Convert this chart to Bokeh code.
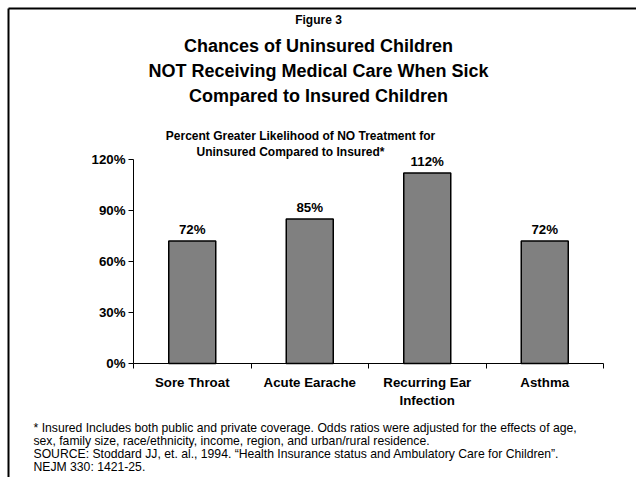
from bokeh.plotting import figure
from bokeh.models import Range1d, FixedTicker, Label, LabelSet, ColumnDataSource
from bokeh.core.properties import value
from bokeh.embed import file_html
from bokeh.resources import INLINE

# ---- data ----
categories = ["Sore Throat", "Acute Earache", "Recurring Ear\nInfection", "Asthma"]
values = [72, 85, 112, 72]
y_ticks = [0, 30, 60, 90, 120]
y_tick_labels = ["0%", "30%", "60%", "90%", "120%"]
figure_label = "Figure 3"
title_lines = ["Chances of Uninsured Children",
               "NOT Receiving Medical Care When Sick",
               "Compared to Insured Children"]
subtitle_lines = ["Percent Greater Likelihood of NO Treatment for",
                  "Uninsured Compared to Insured*"]
footnote_lines = [
    "* Insured Includes both public and private coverage.  Odds ratios were adjusted for the effects of age,",
    "sex, family size, race/ethnicity, income, region, and urban/rural residence.",
    "SOURCE: Stoddard JJ, et. al., 1994.  \u201cHealth Insurance status and Ambulatory Care for Children\u201d.",
    "NEJM 330: 1421-25.",
]

# ---- layout (the frame spans the whole canvas; axes sit at fixed locations) ----
W, H = 636, 477
n = len(categories)
y_max = 120
X0_PX, X1_PX = 133, 603      # pixel span of the category axis
Y0_PX, Y1_PX = 363, 159      # pixel span of the value axis (0 .. y_max)
FONT = "Liberation Sans"

kx = (X1_PX - X0_PX) / n
ky = (Y0_PX - Y1_PX) / y_max


def xd(px):
    return (px - X0_PX) / kx


def yd(py):
    return (Y0_PX - py) / ky


xs = [i + 0.5 for i in range(n)]
src = ColumnDataSource(dict(x=xs, value=values, label=[f"{v}%" for v in values]))

p = figure(width=W, height=H, output_backend="svg", toolbar_location=None,
           x_range=Range1d(xd(0), xd(W)), y_range=Range1d(yd(H), yd(0)),
           min_border=0)
p.outline_line_color = None
p.grid.visible = False
p.background_fill_color = "white"
p.border_fill_color = "white"

p.vbar(x="x", top="value", width=0.4, source=src,
       fill_color="#808080", line_color="black", line_width=1.5)

p.add_layout(LabelSet(x="x", y="value", text="label", source=src,
                      text_align="center", text_baseline="alphabetic", y_offset=7,
                      text_font=value(FONT), text_font_style="bold",
                      text_font_size="13.3px", text_color="black"))

# x axis
xa = p.xaxis[0]
xa.fixed_location = 0
xa.bounds = (0, n)
xa.ticker = FixedTicker(ticks=xs, minor_ticks=list(range(n + 1)))
xa.major_label_overrides = {x: c for x, c in zip(xs, categories)}
xa.major_tick_out = 0
xa.major_tick_in = 0
xa.minor_tick_out = 5
xa.minor_tick_in = 0
xa.minor_tick_line_color = "black"
xa.axis_line_color = "black"
xa.major_label_standoff = 6
xa.major_label_text_font = FONT
xa.major_label_text_font_style = "bold"
xa.major_label_text_font_size = "13.3px"
xa.major_label_text_color = "black"

# y axis
ya = p.yaxis[0]
ya.fixed_location = 0
ya.bounds = (0, y_max)
ya.ticker = FixedTicker(ticks=y_ticks)
ya.major_label_overrides = {t: s for t, s in zip(y_ticks, y_tick_labels)}
ya.major_tick_out = 5
ya.major_tick_in = 0
ya.minor_tick_out = 0
ya.minor_tick_in = 0
ya.major_tick_line_color = "black"
ya.axis_line_color = "black"
ya.major_label_standoff = 3
ya.major_label_text_font = FONT
ya.major_label_text_font_style = "bold"
ya.major_label_text_font_size = "13.3px"
ya.major_label_text_color = "black"


def add_text(txt, px, py, size, bold=True, align="center"):
    p.add_layout(Label(x=xd(px), y=yd(py), text=txt, text_align=align,
                       text_baseline="middle", text_font=FONT,
                       text_font_style="bold" if bold else "normal",
                       text_font_size=size, text_color="black"))


add_text(figure_label, 318, 19, "12px")
for i, line in enumerate(title_lines):
    add_text(line, 318, 45 + 25 * i, "18px")
add_text(subtitle_lines[0], 300, 135, "12px")
add_text(subtitle_lines[1], 290, 151, "12px")
for i, line in enumerate(footnote_lines):
    add_text(line, 33, 427 + 13 * i, "12.2px", bold=False, align="left")

# slide frame (top and left edges)
p.segment(x0=[xd(8), xd(8)], y0=[yd(8), yd(8)], x1=[xd(W + 5), xd(8)], y1=[yd(8), yd(H + 5)],
          line_color="black", line_width=2)

open("out.html", "w").write(file_html(p, INLINE))
